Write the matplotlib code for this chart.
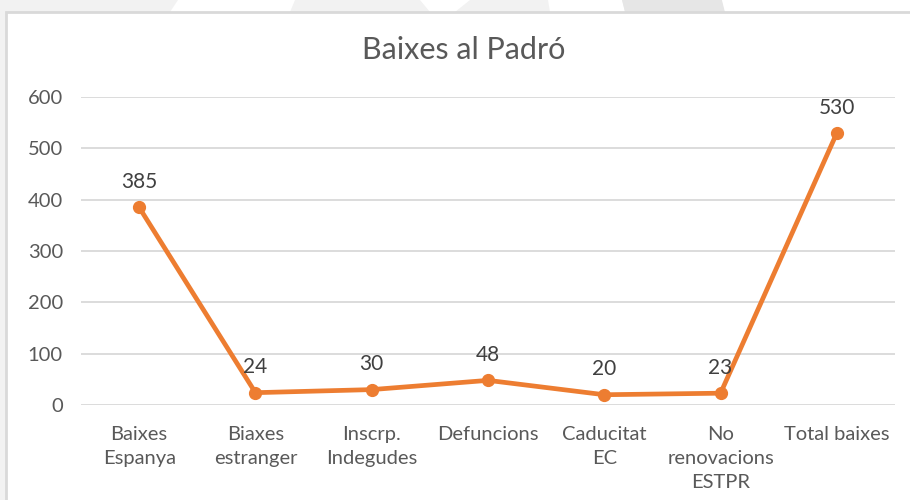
import matplotlib.pyplot as plt
from matplotlib.patches import Polygon, Rectangle

categories = ["Baixes\nEspanya", "Biaxes\nestranger", "Inscrp.\nIndegudes",
              "Defuncions", "Caducitat\nEC", "No\nrenovacions\nESTPR", "Total baixes"]
values = [385, 24, 30, 48, 20, 23, 530]
y_ticks = [0, 100, 200, 300, 400, 500, 600]

ORANGE = "#ED7D31"
TEXT = "#595959"
W, H = 910, 500

plt.rcParams["font.family"] = ["Lato", "DejaVu Sans"]

fig = plt.figure(figsize=(W / 100, H / 100), dpi=100)


def px(x, y):
    return (x / W, 1 - y / H)


# background band behind the chart (watermark-like stripes)
fig.patches.append(Rectangle(px(0, 12), 1, 12 / H, transform=fig.transFigure,
                             facecolor="#f2f2f2", edgecolor="none", zorder=0))
fig.patches.append(Rectangle(px(0, H), 6 / W, 1, transform=fig.transFigure,
                             facecolor="#f2f2f2", edgecolor="none", zorder=0))
for pts, col in [
    ([(178, 0), (295, 0), (290, 12), (170, 12)], "white"),
    ([(420, 0), (470, 0), (455, 12), (430, 12)], "white"),
    ([(548, 0), (622, 0), (625, 12), (550, 12)], "white"),
    ([(622, 0), (722, 0), (725, 12), (625, 12)], "#e6e6e6"),
    ([(722, 0), (910, 0), (910, 12), (725, 12)], "white"),
]:
    fig.patches.append(Polygon([px(x, y) for x, y in pts], closed=True,
                               transform=fig.transFigure, facecolor=col,
                               edgecolor="none", zorder=0))
# chart frame
fig.patches.append(Rectangle(px(6, H + 5), 1, (H - 12 + 5) / H, transform=fig.transFigure,
                             facecolor="white", edgecolor="#d9d9d9", linewidth=2, zorder=0))

ax = fig.add_axes([81 / W, 1 - 405 / H, (895 - 81) / W, (405 - 97) / H])
ax.set_zorder(2)
ax.set_facecolor("none")

x = list(range(len(categories)))
ax.plot(x, values, "-o", color=ORANGE, linewidth=3.4, markersize=8.5, zorder=3)
for xi, v in zip(x, values):
    ax.annotate(str(v), (xi, v), xytext=(0, 11), textcoords="offset points",
                ha="center", va="bottom", fontsize=15, color="#404040")

ax.set_xlim(-0.5, len(categories) - 0.5)
ax.set_ylim(0, 600)
ax.set_yticks(y_ticks)
ax.set_xticks(x)
ax.set_xticklabels(categories, linespacing=1.5)
ax.tick_params(axis="both", length=0, labelsize=14.5, labelcolor=TEXT)
ax.tick_params(axis="y", pad=13)
ax.tick_params(axis="x", pad=15)
ax.grid(axis="y", color="#d9d9d9", linewidth=1.3)
ax.set_axisbelow(True)
for s in ax.spines.values():
    s.set_visible(False)

fig.text(464 / W, 1 - 50 / H, "Baixes al Padró", ha="center", va="center",
         fontsize=22, color=TEXT, zorder=3)

fig.savefig("out.png", dpi=100)
